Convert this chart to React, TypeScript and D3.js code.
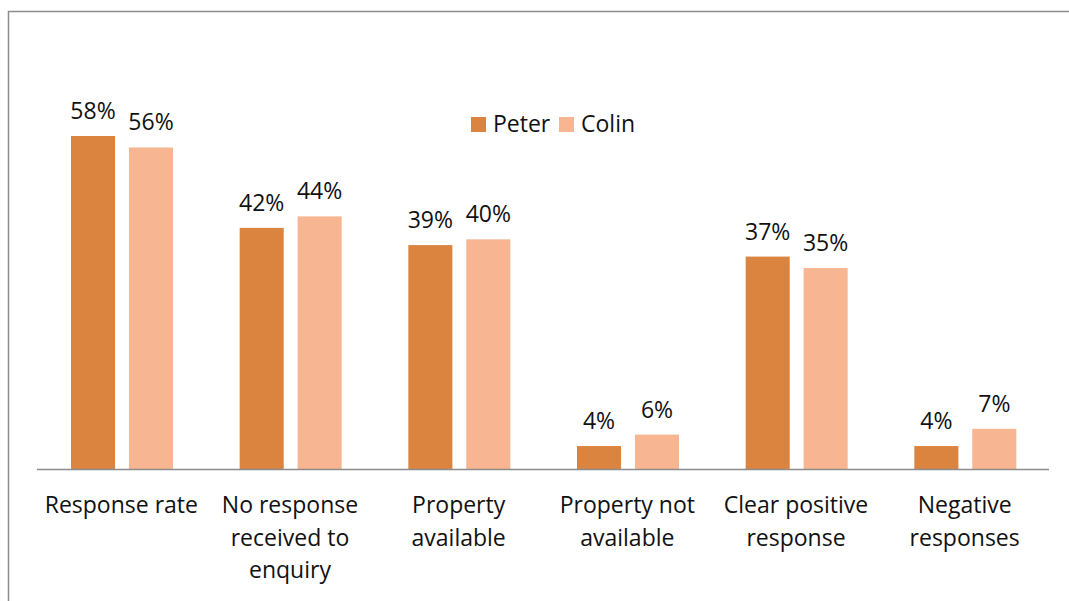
import React from 'react';
import { scaleBand, scaleLinear } from 'd3';

const categories = [
  ['Response rate'],
  ['No response', 'received to', 'enquiry'],
  ['Property', 'available'],
  ['Property not', 'available'],
  ['Clear positive', 'response'],
  ['Negative', 'responses'],
];
const peter = [58, 42, 39, 4, 37, 4];
const colin = [56, 44, 40, 6, 35, 7];
const seriesNames = ['Peter', 'Colin'];
const colors = ['#db8440', '#f8b591'];

const W = 1069;
const H = 601;
const font = '"Open Sans", Lato, sans-serif';
const fs = 23;

export default function App() {
  // axis from x=37 to 1049, baseline at y=469
  const x = scaleBand<number>()
    .domain(categories.map((_, i) => i))
    .range([37, 1049]);
  const y = scaleLinear().domain([0, 58]).range([469, 136]);
  const inner = scaleBand<number>().domain([0, 1]).range([34, 136]).paddingInner(0.24);

  const series = [peter, colin];

  return (
    <svg width={W} height={H} style={{ position: 'absolute', left: 0, top: 0, background: '#fff' }}>
      <rect x={8.5} y={11.5} width={1070} height={600} fill="#fff" stroke="#8c8c8c" strokeWidth={1.5} />
      {series.map((vals, s) =>
        vals.map((v, i) => {
          const bx = (x(i) as number) + (inner(s) as number);
          const bw = inner.bandwidth();
          return (
            <g key={`${s}-${i}`}>
              <rect x={bx} y={y(v)} width={bw} height={469 - y(v)} fill={colors[s]} />
              <text
                x={bx + bw / 2}
                y={y(v) - 17}
                textAnchor="middle"
                fontFamily={font}
                fontSize={fs}
                fill="#111"
              >
                {v}%
              </text>
            </g>
          );
        })
      )}
      <line x1={37} x2={1049} y1={469.5} y2={469.5} stroke="#8c8c8c" strokeWidth={1.5} />
      {categories.map((lines, i) => (
        <text
          key={i}
          x={(x(i) as number) + x.bandwidth() / 2}
          textAnchor="middle"
          fontFamily={font}
          fontSize={fs}
          fill="#111"
        >
          {lines.map((l, j) => (
            <tspan key={j} x={(x(i) as number) + x.bandwidth() / 2} y={513 + j * 32.5}>
              {l}
            </tspan>
          ))}
        </text>
      ))}
      {seriesNames.map((name, s) => {
        const lx = [471, 559][s];
        return (
          <g key={name}>
            <rect x={lx} y={117} width={15} height={15} fill={colors[s]} />
            <text x={lx + 22} y={132} fontFamily={font} fontSize={fs} fill="#111">
              {name}
            </text>
          </g>
        );
      })}
    </svg>
  );
}
